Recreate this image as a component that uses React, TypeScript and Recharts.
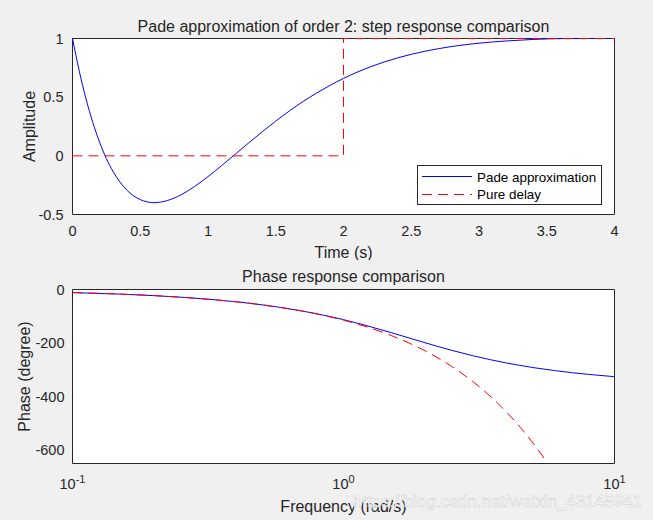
import React from "react";
import { LineChart, Line, XAxis, YAxis, CartesianGrid, Legend } from "recharts";

// Step response, values
const stepTime = [0, 0.05, 0.1, 0.15, 0.2, 0.25, 0.3, 0.35, 0.4, 0.5, 0.6, 0.7, 0.8, 0.9, 1.0, 1.1, 1.2, 1.3, 1.4, 1.5, 1.6, 1.7, 1.8, 1.9, 2.0, 2.2, 2.4, 2.6, 2.8, 3.0, 3.2, 3.4, 3.6, 3.8, 4.0];
const padeStep = [1, 0.722, 0.484, 0.284, 0.116, -0.023, -0.135, -0.223, -0.291, -0.373, -0.399, -0.381, -0.333, -0.262, -0.177, -0.084, 0.013, 0.11, 0.205, 0.296, 0.382, 0.462, 0.534, 0.6, 0.66, 0.759, 0.835, 0.891, 0.932, 0.96, 0.979, 0.992, 0.999, 1, 1];
const delayTime = [0, 2, 2, 4];
const delayStep = [0, 0, 1, 1];
const stepTicksX = [0, 0.5, 1, 1.5, 2, 2.5, 3, 3.5, 4];
const stepTicksY = [-0.5, 0, 0.5, 1];
const stepEdgesX = [0, 4];
const stepEdgesY = [-0.5, 1];

// Phase response (degrees vs rad/s)
const freq = [0.1, 0.15, 0.2, 0.3, 0.4, 0.5, 0.6, 0.7, 0.8, 1, 1.2, 1.5, 2, 2.5, 3, 4, 5, 6, 7, 8, 10];
const padePhase = [-11.5, -17.2, -22.9, -34.4, -45.8, -57.2, -68.6, -79.8, -91, -112.6, -133.3, -161.1, -198.9, -226.9, -247.4, -274.6, -291.5, -302.8, -311.1, -317, -325.7];
const delayFreq = [0.1, 0.15, 0.2, 0.3, 0.4, 0.5, 0.6, 0.7, 0.8, 1, 1.2, 1.5, 2, 2.5, 3, 3.5, 4, 4.5, 5, 5.67];
const delayPhase = [-11.5, -17.2, -22.9, -34.4, -45.8, -57.3, -68.8, -80.2, -91.7, -114.6, -137.5, -171.9, -229.2, -286.5, -343.8, -401.1, -458.4, -515.7, -573, -650];
const freqTicks = [0.1, 1, 10];
const freqMinorTicks = [0.2, 0.3, 0.4, 0.5, 0.6, 0.7, 0.8, 0.9, 2, 3, 4, 5, 6, 7, 8, 9];
const phaseTicksY = [-600, -400, -200, 0];
const phaseEdgesY = [-650, 0];

const seriesNames = ["Pade approximation", "Pure delay"];
const titles = ["Pade approximation of order 2: step response comparison", "Phase response comparison"];

const AX = "#262626";
const BLUE = "#0000ff";
const RED = "#ff0000";
const DASH = "10 6";

const padeStepData = stepTime.map((t, i) => ({ t, v: padeStep[i] }));
const delayStepData = delayTime.map((t, i) => ({ t, v: delayStep[i] }));
const padePhaseData = freq.map((t, i) => ({ t, v: padePhase[i] }));
const delayPhaseData = delayFreq.map((t, i) => ({ t, v: delayPhase[i] }));

const tickFont = { fill: AX, fontSize: 14.5 };
const tl = { stroke: AX };

// 10^n labels for the log axis
const PowTick = (props: any) => {
  const { x, y, payload } = props;
  const exp = Math.round(Math.log10(payload.value));
  return (
    <text x={x} y={y} textAnchor="middle" fill={AX} fontSize={14.5}>
      <tspan dy={15}>10</tspan>
      <tspan dy={-6} fontSize={11}>{exp}</tspan>
    </text>
  );
};

const StepLegend = () => (
  <svg width={185} height={40} style={{ display: "block" }}>
    <rect x={0.5} y={0.5} width={184} height={39} fill="#fff" stroke={AX} />
    <line x1={5} x2={55} y1={11.5} y2={11.5} stroke={BLUE} />
    <line x1={5} x2={55} y1={29.5} y2={29.5} stroke={RED} strokeDasharray={DASH} />
    <text x={60} y={16.5} fontSize={13.4} fill="#000">{seriesNames[0]}</text>
    <text x={60} y={34} fontSize={13.4} fill="#000">{seriesNames[1]}</text>
  </svg>
);

export default function App() {
  return (
    <div
      style={{
        position: "absolute",
        left: 0,
        top: 0,
        width: 653,
        height: 520,
        background: "#f0f0f0",
        fontFamily: "'Liberation Sans', Arial, sans-serif",
      }}
    >
      <div style={{ position: "absolute", left: 0, top: 0 }}>
        <LineChart width={653} height={260} margin={{ top: 38.5, right: 38.5, bottom: 1.5, left: 12.5 }}>
          {/* white axes box with its frame, drawn under the lines */}
          <XAxis xAxisId="xe" type="number" domain={[0, 4]} ticks={stepEdgesX} hide allowDataOverflow />
          <YAxis yAxisId="ye" type="number" domain={[-0.5, 1]} ticks={stepEdgesY} hide allowDataOverflow />
          <CartesianGrid xAxisId="xe" yAxisId="ye" fill="#fff" stroke={AX} strokeOpacity={1} />
          <XAxis
            xAxisId="x"
            dataKey="t"
            type="number"
            domain={[0, 4]}
            ticks={stepTicksX}
            height={44}
            tickLine={false}
            tickSize={0}
            tickMargin={11.5}
            axisLine={false}
            tick={tickFont}
            label={{ value: "Time (s)", position: "insideBottom", offset: 1, fill: AX, fontSize: 16 }}
          />
          <XAxis xAxisId="xb" type="number" domain={[0, 4]} ticks={stepTicksX} mirror height={1} tick={false} tickSize={5} axisLine={false} tickLine={tl} allowDataOverflow />
          <XAxis xAxisId="xt" type="number" orientation="top" domain={[0, 4]} ticks={stepTicksX} mirror height={1} tick={false} tickSize={5} axisLine={false} tickLine={tl} allowDataOverflow />
          <YAxis
            yAxisId="y"
            type="number"
            domain={[-0.5, 1]}
            ticks={stepTicksY}
            width={60}
            tickLine={false}
            tickSize={0}
            tickMargin={9}
            axisLine={false}
            tick={tickFont}
            label={{ value: "Amplitude", angle: -90, position: "insideLeft", offset: 16.5, textAnchor: "middle", fill: AX, fontSize: 16 }}
          />
          <YAxis yAxisId="yl" type="number" domain={[-0.5, 1]} ticks={stepTicksY} mirror width={1} tick={false} tickSize={5} axisLine={false} tickLine={tl} allowDataOverflow />
          <YAxis yAxisId="yr" type="number" orientation="right" domain={[-0.5, 1]} ticks={stepTicksY} mirror width={1} tick={false} tickSize={5} axisLine={false} tickLine={tl} allowDataOverflow />
          <Line xAxisId="x" yAxisId="y" data={padeStepData} dataKey="v" name={seriesNames[0]} type="monotone" stroke={BLUE} strokeWidth={1} dot={false} activeDot={false} isAnimationActive={false} />
          <Line xAxisId="x" yAxisId="y" data={delayStepData} dataKey="v" name={seriesNames[1]} type="linear" stroke={RED} strokeWidth={1} strokeDasharray={DASH} dot={false} activeDot={false} isAnimationActive={false} />
          <Legend
            layout="vertical"
            align="center"
            verticalAlign="middle"
            content={() => <StepLegend />}
            wrapperStyle={{ left: 417, top: 165, width: 185, height: 40 }}
          />
        </LineChart>
      </div>

      <div style={{ position: "absolute", left: 0, top: 260 }}>
        <LineChart width={653} height={260} margin={{ top: 29.5, right: 38.5, bottom: 6.5, left: 12.5 }}>
          <XAxis xAxisId="xe" type="number" scale="log" domain={[0.1, 10]} ticks={[freqTicks[0], freqTicks[2]]} hide allowDataOverflow />
          <YAxis yAxisId="ye" type="number" domain={[-650, 0]} ticks={phaseEdgesY} hide allowDataOverflow />
          <CartesianGrid xAxisId="xe" yAxisId="ye" fill="#fff" stroke={AX} strokeOpacity={1} />
          <XAxis
            xAxisId="x"
            dataKey="t"
            type="number"
            scale="log"
            domain={[0.1, 10]}
            ticks={freqTicks}
            height={50}
            tickLine={false}
            tickSize={0}
            tickMargin={10}
            axisLine={false}
            tick={<PowTick />}
            label={{ value: "Frequency (rad/s)", position: "insideBottom", offset: 1.3, fill: AX, fontSize: 16 }}
          />
          <XAxis xAxisId="xb" type="number" scale="log" domain={[0.1, 10]} ticks={freqTicks} mirror height={1} tick={false} tickSize={5} axisLine={false} tickLine={tl} allowDataOverflow />
          <XAxis xAxisId="xbm" type="number" scale="log" domain={[0.1, 10]} ticks={freqMinorTicks} mirror height={1} tick={false} tickSize={3} axisLine={false} tickLine={tl} allowDataOverflow />
          <XAxis xAxisId="xt" type="number" scale="log" orientation="top" domain={[0.1, 10]} ticks={freqTicks} mirror height={1} tick={false} tickSize={5} axisLine={false} tickLine={tl} allowDataOverflow />
          <XAxis xAxisId="xtm" type="number" scale="log" orientation="top" domain={[0.1, 10]} ticks={freqMinorTicks} mirror height={1} tick={false} tickSize={3} axisLine={false} tickLine={tl} allowDataOverflow />
          <YAxis
            yAxisId="y"
            type="number"
            domain={[-650, 0]}
            ticks={phaseTicksY}
            width={60}
            tickLine={false}
            tickSize={0}
            tickMargin={8}
            axisLine={false}
            tick={tickFont}
            label={{ value: "Phase (degree)", angle: -90, position: "insideLeft", offset: 11.8, textAnchor: "middle", fill: AX, fontSize: 16 }}
          />
          <YAxis yAxisId="yl" type="number" domain={[-650, 0]} ticks={phaseTicksY} mirror width={1} tick={false} tickSize={5} axisLine={false} tickLine={tl} allowDataOverflow />
          <YAxis yAxisId="yr" type="number" orientation="right" domain={[-650, 0]} ticks={phaseTicksY} mirror width={1} tick={false} tickSize={5} axisLine={false} tickLine={tl} allowDataOverflow />
          <Line xAxisId="x" yAxisId="y" data={padePhaseData} dataKey="v" name={seriesNames[0]} type="monotone" stroke={BLUE} strokeWidth={1} dot={false} activeDot={false} isAnimationActive={false} />
          <Line xAxisId="x" yAxisId="y" data={delayPhaseData} dataKey="v" name={seriesNames[1]} type="monotone" stroke={RED} strokeWidth={1} strokeDasharray={DASH} dot={false} activeDot={false} isAnimationActive={false} />
        </LineChart>
      </div>

      <svg width={653} height={520} style={{ position: "absolute", left: 0, top: 0, pointerEvents: "none" }}>
        <text x={343.5} y={32.3} textAnchor="middle" fontSize={16} fill={AX}>{titles[0]}</text>
        <text x={343.5} y={281.5} textAnchor="middle" fontSize={16} fill={AX}>{titles[1]}</text>
        <text x={642} y={507} textAnchor="end" fontSize={17} fill="#ffffff" stroke="#cfcfcf" strokeWidth={0.5}>
          https://blog.csdn.net/weixin_43145941
        </text>
      </svg>
    </div>
  );
}
